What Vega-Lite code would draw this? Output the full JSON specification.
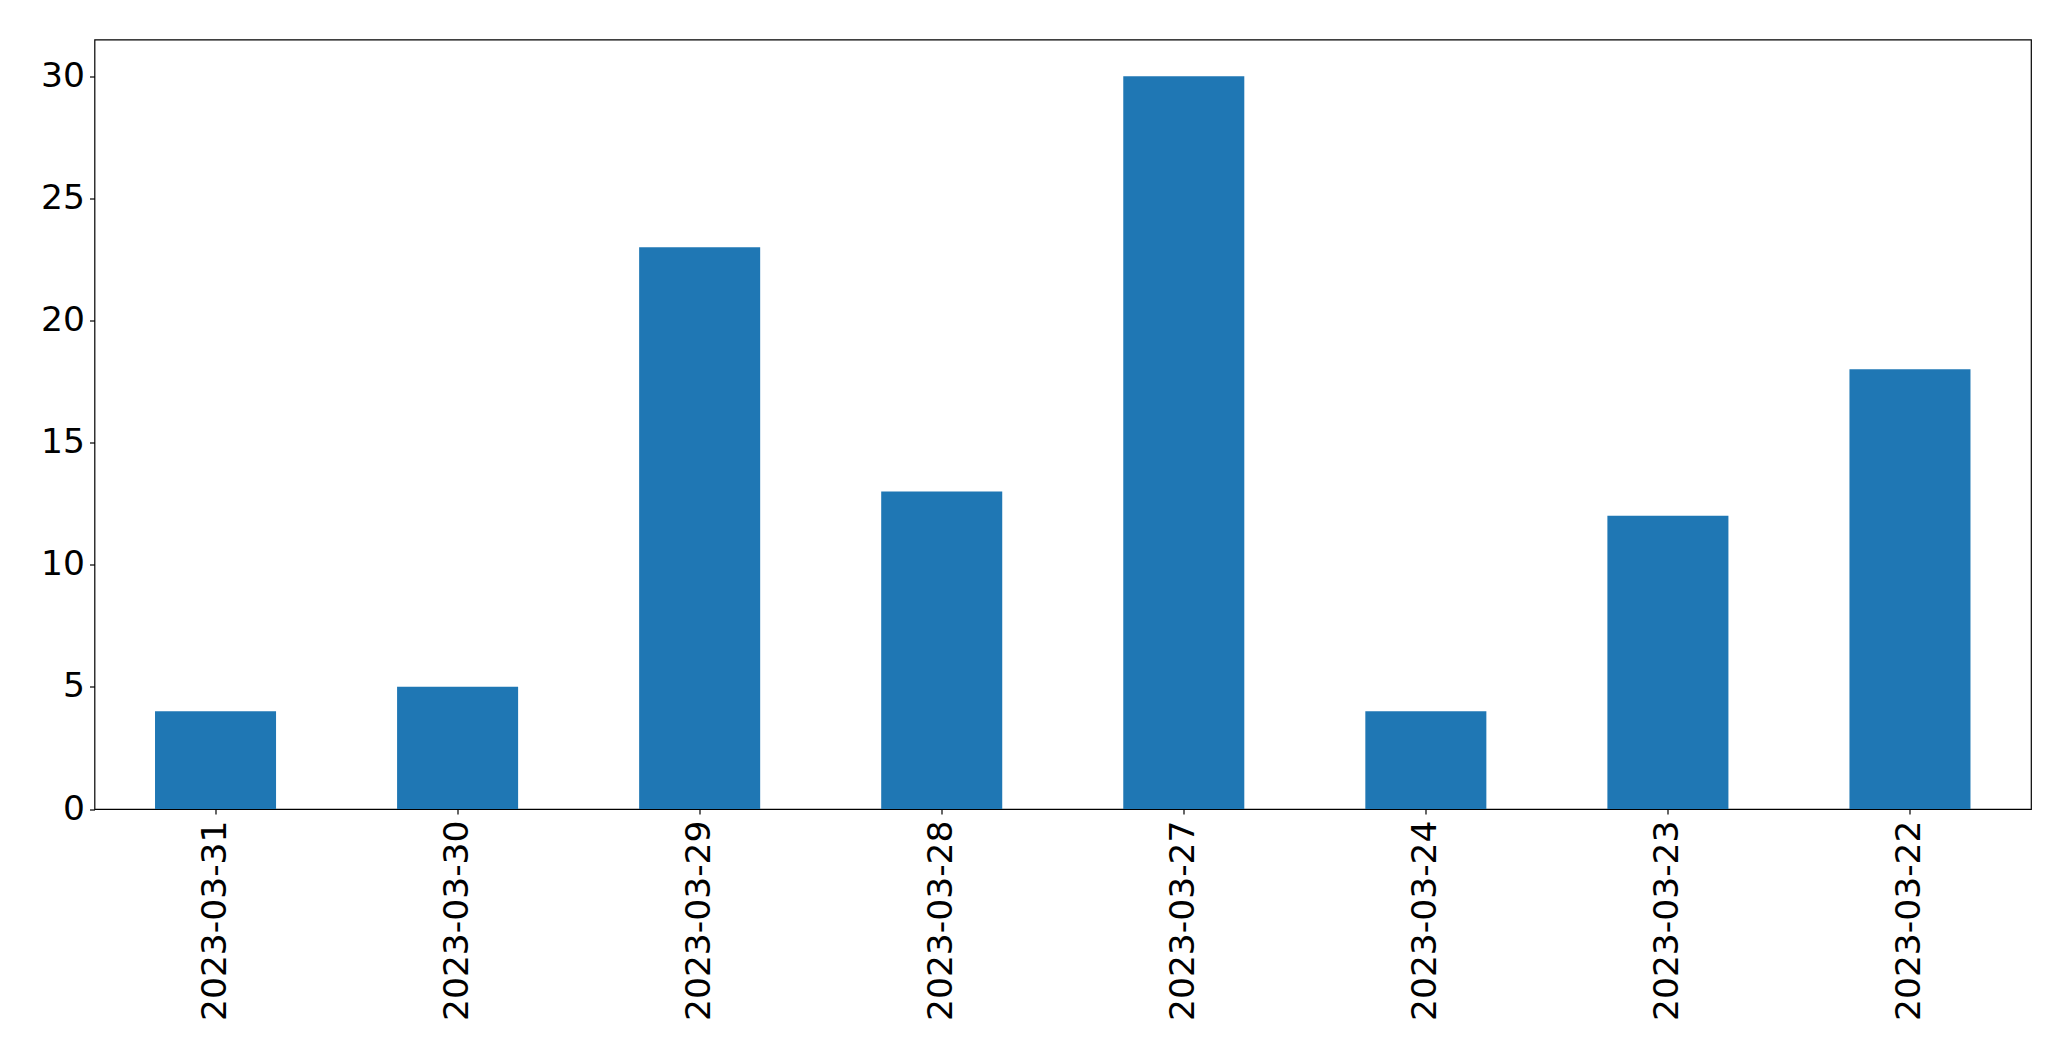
{
  "$schema": "https://vega.github.io/schema/vega-lite/v6.json",
  "autosize": {"type": "none"},
  "padding": {"left": 94.5, "top": 39.5, "right": 40, "bottom": 252},
  "width": 1936.5,
  "height": 769.5,
  "background": "white",
  "data": {"values": [
    {"date": "2023-03-31", "count": 4},
    {"date": "2023-03-30", "count": 5},
    {"date": "2023-03-29", "count": 23},
    {"date": "2023-03-28", "count": 13},
    {"date": "2023-03-27", "count": 30},
    {"date": "2023-03-24", "count": 4},
    {"date": "2023-03-23", "count": 12},
    {"date": "2023-03-22", "count": 18}
  ]},
  "mark": {"type": "bar", "color": "#1f77b4"},
  "encoding": {
    "x": {
      "field": "date", "type": "nominal", "sort": null,
      "scale": {"paddingInner": 0.5, "paddingOuter": 0.25},
      "axis": {"title": null, "labelAngle": -90, "labelFontSize": 34.5, "labelFont": "DejaVu Sans", "labelColor": "black", "labelLimit": 0, "tickColor": "black", "tickSize": 5, "tickWidth": 1.2, "labelPadding": 6, "domain": false, "grid": false}
    },
    "y": {
      "field": "count", "type": "quantitative",
      "scale": {"domain": [0, 31.5], "nice": false, "zero": true},
      "axis": {"title": null, "values": [0, 5, 10, 15, 20, 25, 30], "labelFontSize": 34.5, "labelFont": "DejaVu Sans", "labelColor": "black", "tickColor": "black", "tickSize": 5, "tickWidth": 1.2, "labelPadding": 5, "domain": false, "grid": false}
    }
  },
  "config": {"view": {"stroke": "black", "strokeWidth": 1.2}}
}
